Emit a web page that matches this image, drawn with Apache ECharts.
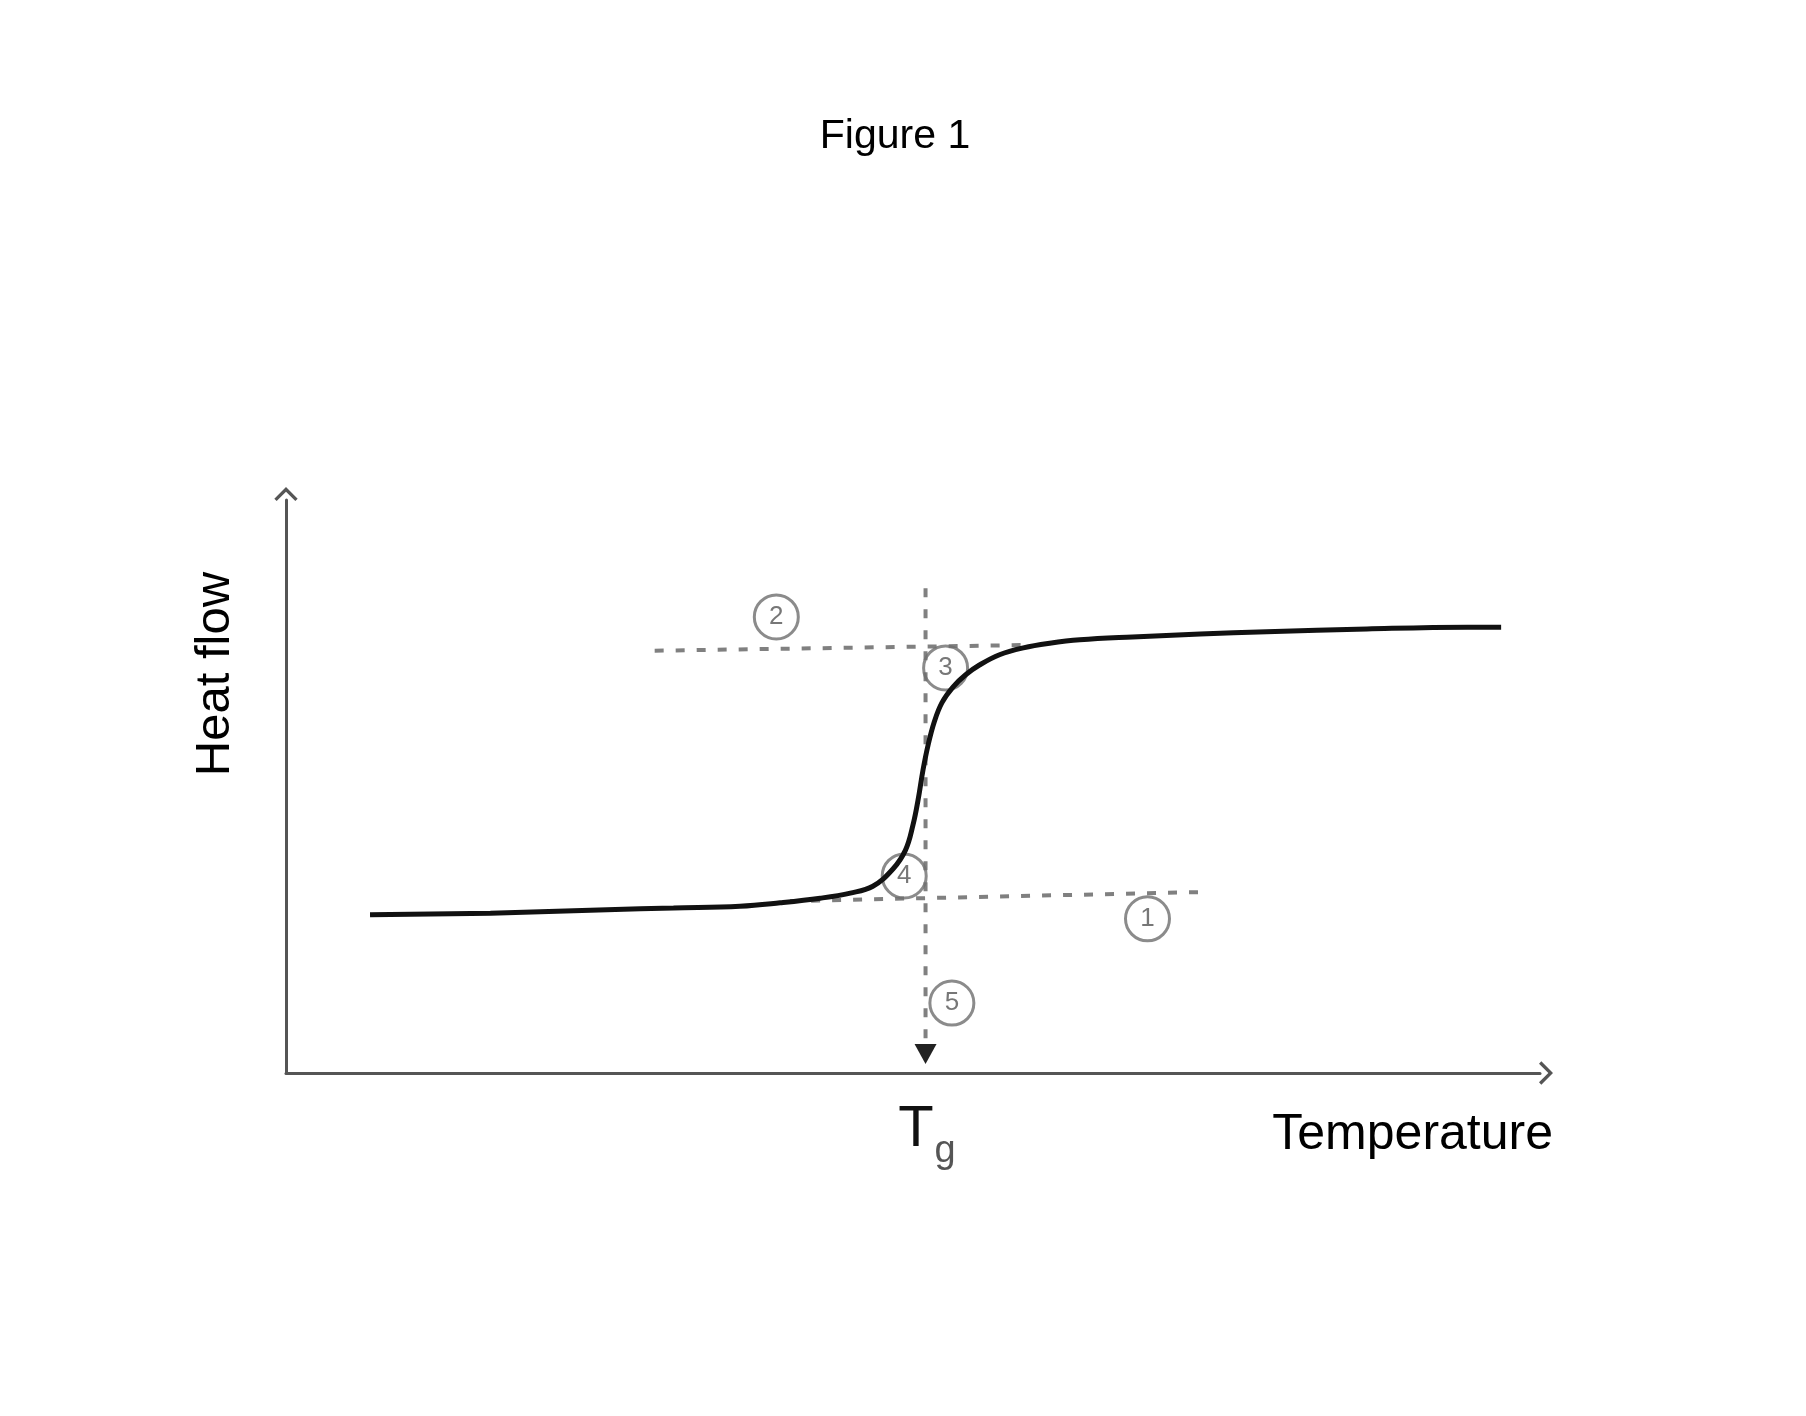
<!DOCTYPE html>
<html>
<head>
<meta charset="utf-8">
<title>Figure 1</title>
<script src="https://cdn.jsdelivr.net/npm/echarts@6.0.0/dist/echarts.min.js"></script>
<style>
  html, body { margin: 0; padding: 0; background: #fff; }
  #chart { width: 1806px; height: 1416px; }
</style>
</head>
<body>
<div id="chart"></div>
<script>
// DSC trace (arbitrary units 0..100 on both axes)
const curveTemp = [6.7, 16.3, 25.6, 30.9, 36.2, 39.4, 42.6, 45.0, 46.8, 48.4, 49.4, 50.0, 50.4, 50.8, 51.2, 51.7, 52.3, 53.2, 54.2, 55.3, 56.9, 58.8, 60.9, 63.3, 67.5, 72.9, 78.2, 86.2, 94.2, 96.9];
const curveHeat = [27.6, 27.9, 28.5, 28.8, 29.1, 29.7, 30.5, 31.4, 32.6, 35.6, 38.9, 43.3, 47.6, 52.9, 57.2, 61.3, 64.6, 67.4, 69.5, 71.2, 73.0, 74.2, 75.0, 75.6, 76.1, 76.6, 77.0, 77.5, 77.8, 77.8];

// tangent lines (1) lower baseline, (2) upper baseline
const lowTangentTemp = [40.2, 73.5];
const lowTangentHeat = [30.0, 31.6];
const highTangentTemp = [29.4, 59.3];
const highTangentHeat = [73.7, 74.7];

// drop line down to Tg
const tgTemp = 51.0;
const tgDropHeat = [84.6, 3.3];

// numbered circles
const markerLabels = ["1", "2", "3", "4", "5"];
const markerTemp = [68.7, 39.1, 52.6, 49.3, 53.1];
const markerHeat = [26.9, 79.6, 70.7, 34.4, 12.2];

const FONT = "'Liberation Sans', Arial, 'DejaVu Sans', sans-serif";
const DASH_GRAY = "#808080";
const chevron = "path://M0,10 L10,0 L20,10 L18,12 L10,4 L2,12 Z";

const zip = (xs, ys) => xs.map((x, i) => [x, ys[i]]);

const chart = echarts.init(document.getElementById("chart"));

const axisCommon = {
  type: "value",
  min: 0,
  max: 100,
  axisLabel: { show: false },
  axisTick: { show: false },
  splitLine: { show: false },
  axisLine: {
    show: true,
    onZero: false,
    symbol: ["none", chevron],
    symbolSize: [26, 14],
    symbolOffset: [0, 6],
    lineStyle: { color: "#555", width: 3 }
  }
};

const dashed = { color: DASH_GRAY, width: 4, type: [9, 12] };

chart.setOption({
  animation: false,
  backgroundColor: "#fff",
  grid: { left: 286, right: 266, top: 500, bottom: 343 },
  xAxis: axisCommon,
  yAxis: axisCommon,
  graphic: [
    {
      type: "text", x: 895, y: 137,
      style: { text: "Figure 1", font: `41px ${FONT}`, fill: "#000", align: "center", verticalAlign: "middle" }
    },
    {
      type: "text", x: 215, y: 674, rotation: Math.PI / 2,
      style: { text: "Heat flow", font: `49px ${FONT}`, fill: "#000", align: "center", verticalAlign: "middle" }
    },
    {
      type: "text", x: 1553, y: 1135,
      style: { text: "Temperature", font: `50px ${FONT}`, fill: "#000", align: "right", verticalAlign: "middle" }
    },
    {
      type: "text", x: 916, y: 1130,
      style: { text: "T", font: `58px ${FONT}`, fill: "#111", align: "center", verticalAlign: "middle" }
    },
    {
      type: "text", x: 945, y: 1152,
      style: { text: "g", font: `38px ${FONT}`, fill: "#555", align: "center", verticalAlign: "middle" }
    }
  ],
  series: [
    {
      type: "line",
      data: zip(lowTangentTemp, lowTangentHeat),
      showSymbol: false,
      lineStyle: dashed
    },
    {
      type: "line",
      data: zip(highTangentTemp, highTangentHeat),
      showSymbol: false,
      lineStyle: dashed
    },
    {
      type: "line",
      data: [
        { value: [tgTemp, tgDropHeat[0]], symbol: "none" },
        { value: [tgTemp, tgDropHeat[1]], symbol: "triangle", symbolRotate: 180, symbolSize: [22, 20] }
      ],
      itemStyle: { color: "#222" },
      lineStyle: dashed
    },
    {
      type: "scatter",
      data: markerLabels.map((name, i) => ({ name, value: [markerTemp[i], markerHeat[i]] })),
      symbol: "circle",
      symbolSize: 44,
      itemStyle: { color: "rgba(0,0,0,0)", borderColor: "#6e6e6e", borderWidth: 3 },
      label: {
        show: true,
        position: "inside",
        formatter: (p) => p.name,
        fontFamily: FONT,
        fontSize: 26,
        color: "#555"
      },
      z: 3
    },
    {
      type: "line",
      data: zip(curveTemp, curveHeat),
      showSymbol: false,
      smooth: 0.4,
      lineStyle: { color: "#111", width: 5 },
      z: 4
    }
  ]
});
</script>
</body>
</html>
